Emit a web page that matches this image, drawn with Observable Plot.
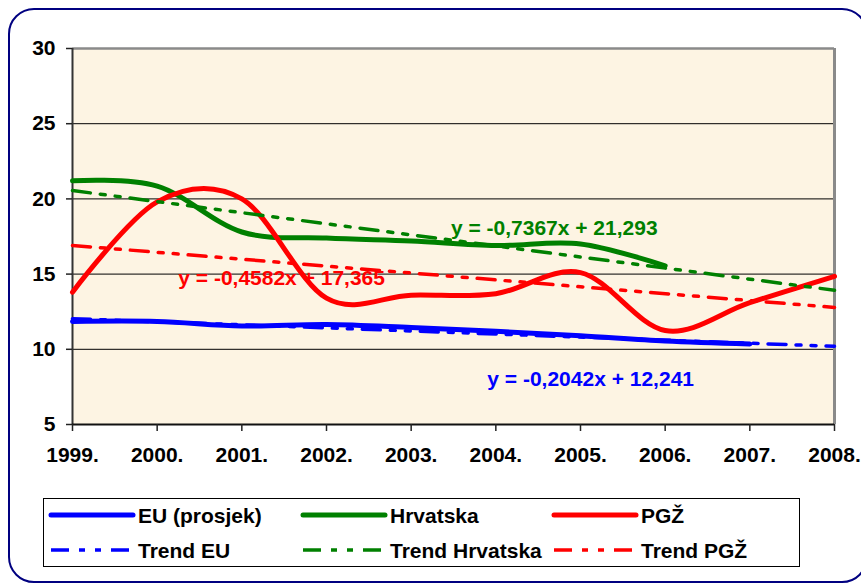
<!DOCTYPE html>
<html>
<head>
<meta charset="utf-8">
<script src="https://cdn.jsdelivr.net/npm/d3@7"></script>
<script src="https://cdn.jsdelivr.net/npm/@observablehq/plot@0.6"></script>
<style>
  html, body { margin: 0; padding: 0; background: #fff; width: 861px; height: 585px; overflow: hidden; }
  #frame { position: absolute; left: 8px; top: 8px; width: 860px; height: 575px; border: 2.5px solid #000080; border-radius: 26px; box-sizing: border-box; }
  #chart { position: absolute; left: 0; top: 0; }
  #legend { position: absolute; left: 43px; top: 498px; width: 757px; height: 69px; border: 1.5px solid #000; box-sizing: border-box; background: #fff; }
  text { font-family: "Liberation Sans", Arial, sans-serif; font-weight: bold; }
</style>
</head>
<body>
<div id="frame"></div>
<div id="chart"></div>
<div id="legend"></div>
<script>
// ---- data ----
const years = [1999, 2000, 2001, 2002, 2003, 2004, 2005, 2006, 2007, 2008];
const euValues = [11.85, 11.85, 11.55, 11.65, 11.45, 11.2, 10.9, 10.55, 10.35];
const hrValues = [21.2, 20.85, 17.8, 17.4, 17.2, 16.9, 17.0, 15.55];
const pgzValues = [13.8, 19.8, 20.0, 13.4, 13.6, 13.7, 15.1, 11.25, 13.1, 14.85];
const seriesNames = ["EU (prosjek)", "Hrvatska", "PGŽ"];
const trendNames = ["Trend EU", "Trend Hrvatska", "Trend PGŽ"];
const seriesColors = ["#0000FF", "#008000", "#FF0000"];
const trendSlopes = [-0.2042, -0.7367, -0.4582];
const trendIntercepts = [12.241, 21.293, 17.365];
const equationLabels = ["y = -0,2042x + 12,241", "y = -0,7367x + 21,293", "y = -0,4582x + 17,365"];
const equationAnchorX = [2005.12, 2004.69, 2001.47];
const equationAnchorY = [8.0, 18.05, 14.75];
const yTicks = [5, 10, 15, 20, 25, 30];

// ---- build tables ----
const seriesValues = [euValues, hrValues, pgzValues];
const lineData = seriesValues.map((vals, i) => vals.map((v, j) => ({year: years[j], value: v, s: i})));
const trendData = trendSlopes.map((m, i) => [0, years.length - 1].map(j => ({year: years[j], value: m * (j + 1) + trendIntercepts[i], s: i})));
const eqData = equationLabels.map((t, i) => ({text: t, x: equationAnchorX[i], y: equationAnchorY[i], s: i}));

const font = "'Liberation Sans', Arial, sans-serif";
const trendDash = "18 10 5 10 5 10";

const chart = Plot.plot({
  width: 861,
  height: 490,
  marginLeft: 72,
  marginRight: 27,
  marginTop: 48,
  marginBottom: 66,
  x: {domain: [1999, 2008]},
  y: {domain: [5, 30]},
  style: {background: "transparent", fontFamily: font, fontWeight: "bold", fontSize: "21px", color: "#000", overflow: "visible"},
  marks: [
    Plot.frame({fill: "#FDF4E3", stroke: null}),
    Plot.ruleY(yTicks.slice(1, -1), {stroke: "#000", strokeWidth: 1}),
    Plot.ruleY([30], {stroke: "#8a8a8a", strokeWidth: 2.5}),
    Plot.ruleX([2008], {stroke: "#8a8a8a", strokeWidth: 3}),
    Plot.ruleX([1999], {stroke: "#333", strokeWidth: 2}),
    Plot.ruleY([5], {stroke: "#111", strokeWidth: 2}),
    Plot.axisY({ticks: yTicks, tickSize: 6, tickPadding: 11, label: null, fontSize: 21, fontWeight: "bold", stroke: "#222", strokeWidth: 1.5}),
    Plot.axisX({ticks: years, tickFormat: d => `${d}.`, tickSize: 7, tickPadding: 16, label: null, fontSize: 21, fontWeight: "bold", stroke: "#222", strokeWidth: 1.5}),
    ...lineData.map((d, i) => Plot.line(d, {x: "year", y: "value", stroke: seriesColors[i], strokeWidth: 5, curve: "cardinal", tension: 0})),
    ...trendData.map((d, i) => Plot.line(d, {x: "year", y: "value", stroke: seriesColors[i], strokeWidth: 3.5, strokeDasharray: trendDash})),
    Plot.text(eqData, {x: "x", y: "y", text: "text", fill: d => seriesColors[d.s], fontSize: 21, fontWeight: "bold", textAnchor: "middle"})
  ]
});
document.getElementById("chart").appendChild(chart);

// ---- legend ----
const legendColX = [7, 259, 510];
const legendRowY = [16, 51];
const lg = d3.select("#legend").append("svg").attr("width", 755).attr("height", 67)
  .style("position", "absolute").style("left", "0px").style("top", "0px");
[seriesNames, trendNames].forEach((names, r) => {
  names.forEach((name, i) => {
    const x0 = legendColX[i];
    lg.append("line").attr("x1", x0).attr("x2", x0 + 82).attr("y1", legendRowY[r]).attr("y2", legendRowY[r])
      .attr("stroke", seriesColors[i]).attr("stroke-width", r === 0 ? 5 : 3.5)
      .attr("stroke-linecap", r === 0 ? "round" : "butt")
      .attr("stroke-dasharray", r === 0 ? null : "18 10 6 10 6 10");
    lg.append("text").attr("x", x0 + 87).attr("y", legendRowY[r] + 8)
      .attr("font-size", 21).attr("font-weight", "bold").attr("font-family", font).attr("fill", "#000")
      .text(name);
  });
});
</script>
</body>
</html>
